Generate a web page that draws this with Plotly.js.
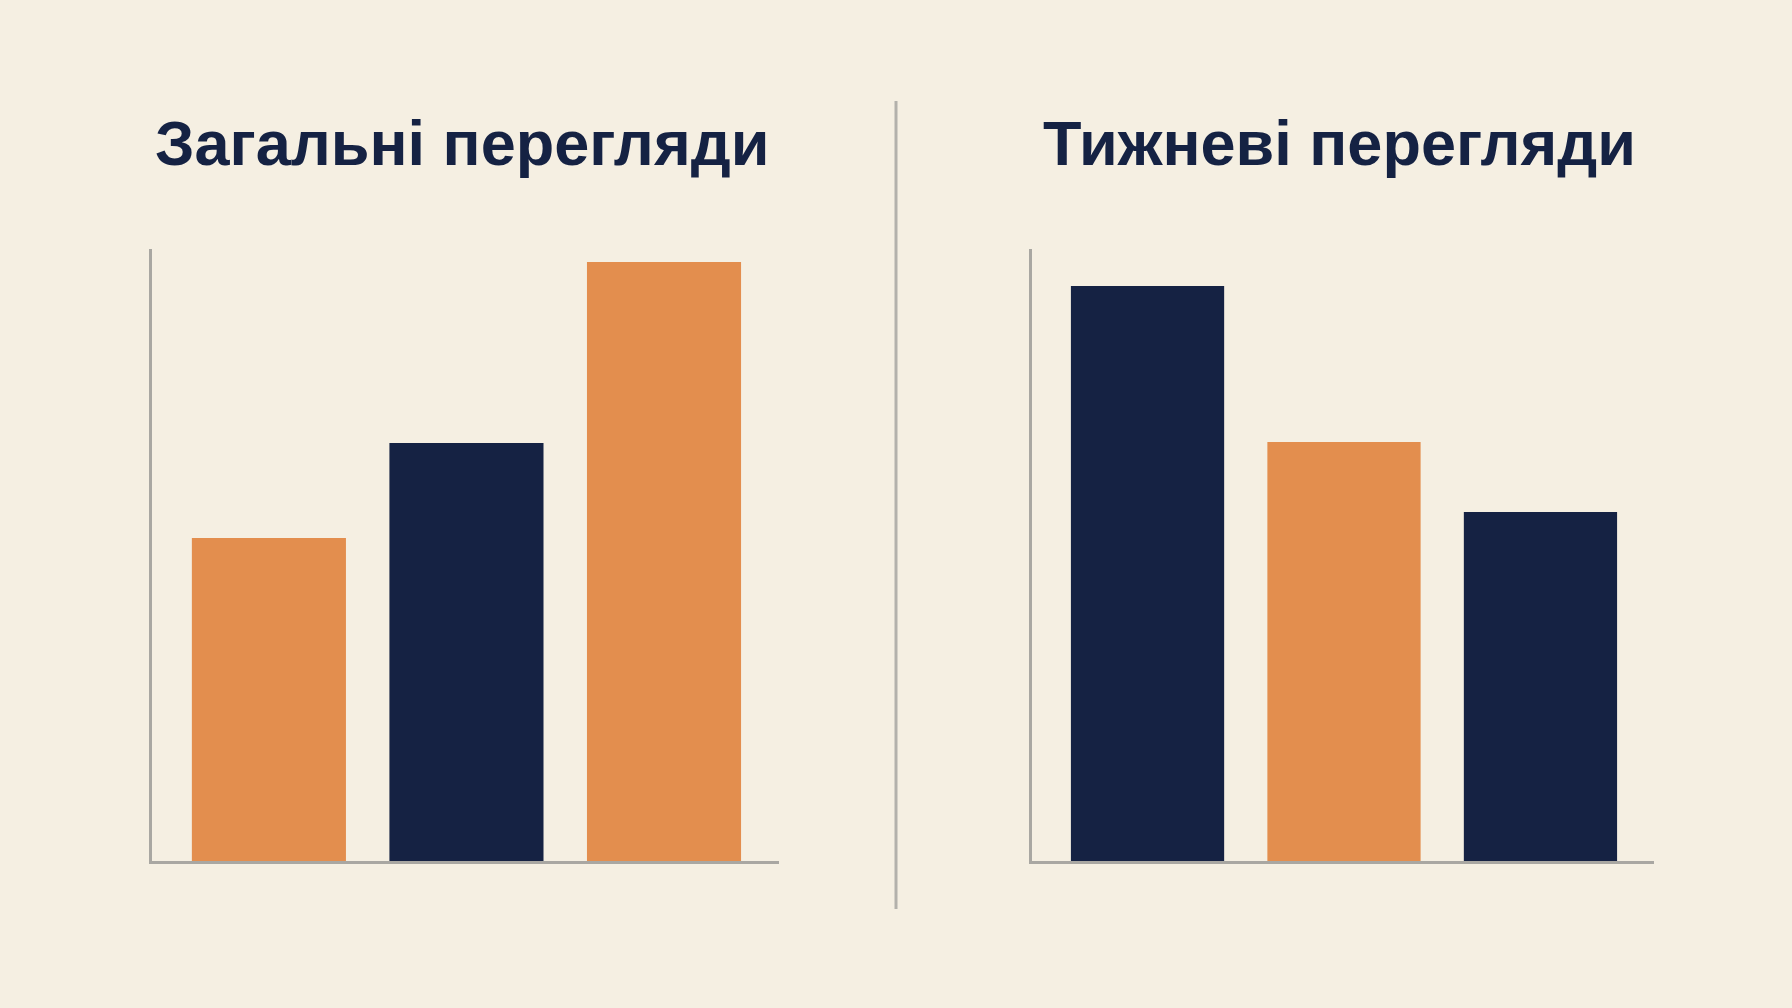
<!DOCTYPE html>
<html>
<head>
<meta charset="utf-8">
<script src="https://cdn.plot.ly/plotly-3.0.1.min.js"></script>
<style>
  html, body { margin: 0; padding: 0; background: #F5EFE2; }
  #myPlot { width: 1792px; height: 1008px; }
</style>
</head>
<body>
<div id="myPlot"></div>
<script>
// chart data
let categories = ["A", "B", "C"];
let totalViews = [323, 418, 599];
let weeklyViews = [575, 419, 349];
let totalColors = ["#E38E4E", "#152243", "#E38E4E"];
let weeklyColors = ["#152243", "#E38E4E", "#152243"];
let titles = ["Загальні перегляди", "Тижневі перегляди"];
let yMax = 612;

let navy = "#152243";
let axisGrey = "#A9A7A2";

var trace1 = {
  x: categories,
  y: totalViews,
  type: 'bar',
  marker: { color: totalColors },
  xaxis: 'x',
  yaxis: 'y',
  hoverinfo: 'y'
};
var trace2 = {
  x: categories,
  y: weeklyViews,
  type: 'bar',
  marker: { color: weeklyColors },
  xaxis: 'x2',
  yaxis: 'y2',
  hoverinfo: 'y'
};

var axisX = {
  type: 'category',
  showline: true,
  linecolor: axisGrey,
  linewidth: 3,
  showgrid: false,
  zeroline: false,
  showticklabels: false,
  ticks: '',
  fixedrange: true
};
var axisY = {
  showline: true,
  linecolor: axisGrey,
  linewidth: 3,
  showgrid: false,
  zeroline: false,
  showticklabels: false,
  ticks: '',
  range: [0, yMax],
  domain: [0.1458, 0.7530],
  fixedrange: true
};

var titleFont = { family: 'Liberation Sans, Arial, sans-serif', size: 63, weight: 'bold', color: navy };

var layout = {
  width: 1792,
  height: 1008,
  margin: { l: 0, r: 0, t: 0, b: 0 },
  paper_bgcolor: '#F5EFE2',
  plot_bgcolor: 'rgba(0,0,0,0)',
  showlegend: false,
  bargap: 0.22,
  xaxis: Object.assign({}, axisX, { domain: [0.0848, 0.4347], range: [-0.592, 2.582], anchor: 'y' }),
  yaxis: Object.assign({}, axisY, { anchor: 'x' }),
  xaxis2: Object.assign({}, axisX, { domain: [0.5759, 0.9230], range: [-0.588, 2.578], anchor: 'y2' }),
  yaxis2: Object.assign({}, axisY, { anchor: 'x2' }),
  shapes: [{
    type: 'line',
    xref: 'paper', yref: 'paper',
    x0: 0.5, x1: 0.5, y0: 0.0982, y1: 0.8998,
    line: { color: '#B3B1AB', width: 3 }
  }],
  annotations: [
    {
      text: titles[0],
      xref: 'paper', yref: 'paper',
      x: 462 / 1792, y: 1 - 143 / 1008,
      xanchor: 'center', yanchor: 'middle',
      showarrow: false,
      font: titleFont
    },
    {
      text: titles[1],
      xref: 'paper', yref: 'paper',
      x: 1339 / 1792, y: 1 - 143 / 1008,
      xanchor: 'center', yanchor: 'middle',
      showarrow: false,
      font: titleFont
    }
  ]
};

Plotly.newPlot("myPlot", [trace1, trace2], layout, { displayModeBar: false, staticPlot: true });
</script>
</body>
</html>
